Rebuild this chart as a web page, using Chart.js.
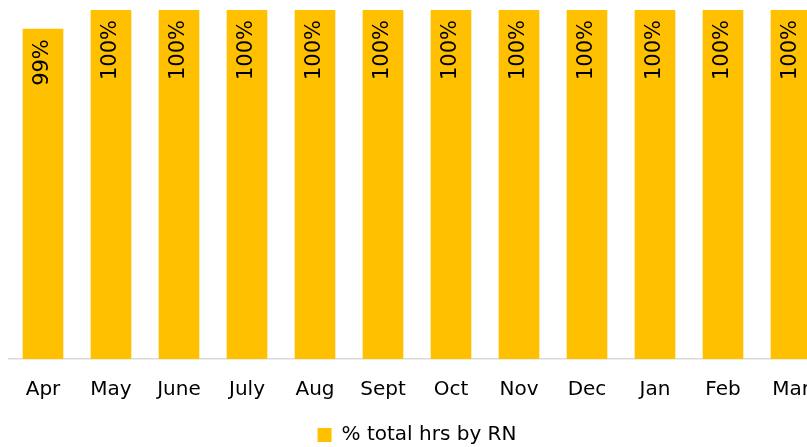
<!DOCTYPE html>
<html>
<head>
<meta charset="utf-8">
<script src="https://cdn.jsdelivr.net/npm/chart.js@4"></script>
<style>
  html, body { margin: 0; padding: 0; background: #fff; overflow: hidden; }
  #wrap { width: 840px; height: 447px; }
</style>
</head>
<body>
<div id="wrap"><canvas id="rnChart" width="840" height="447"></canvas></div>
<script>
var months = ["Apr", "May", "June", "July", "Aug", "Sept", "Oct", "Nov", "Dec", "Jan", "Feb", "Mar"];
var pct_total_hrs_rn = [0.989, 1, 1, 1, 1, 1, 1, 1, 1, 1, 1, 1];
var seriesLabel = "% total hrs by RN";

// bar value labels, rotated, near the top of each bar
var barLabels = {
  id: "barLabels",
  afterDatasetsDraw: function (chart) {
    var ctx = chart.ctx;
    var meta = chart.getDatasetMeta(0);
    ctx.save();
    ctx.font = "21px 'DejaVu Sans'";
    ctx.fillStyle = "#000";
    ctx.textAlign = "right";
    ctx.textBaseline = "middle";
    meta.data.forEach(function (bar, i) {
      var txt = Math.round(pct_total_hrs_rn[i] * 100) + "%";
      ctx.save();
      ctx.translate(bar.x, bar.y + 10);
      ctx.rotate(-Math.PI / 2);
      ctx.fillText(txt, 0, 0);
      ctx.restore();
    });
    ctx.restore();
  },
};

var ctx = document.getElementById("rnChart").getContext("2d");
new Chart(ctx, {
  type: "bar",
  data: {
    labels: months,
    datasets: [
      {
        label: seriesLabel,
        data: pct_total_hrs_rn,
        backgroundColor: "#FFC000",
        borderWidth: 0,
        barThickness: 40,
      },
    ],
  },
  options: {
    responsive: false,
    animation: false,
    layout: {
      padding: { top: 10, left: 9, right: 15, bottom: -8 },
    },
    plugins: {
      legend: {
        position: "bottom",
        labels: {
          font: { family: "'DejaVu Sans'", size: 20 },
          color: "#000",
          boxWidth: 14,
          boxHeight: 14,
          padding: 2,
        },
      },
      tooltip: { enabled: false },
    },
    scales: {
      x: {
        grid: { display: false },
        border: { display: true, color: "#d9d9d9", width: 1.5 },
        ticks: {
          font: { family: "'DejaVu Sans'", size: 20 },
          color: "#000",
          padding: 11,
          maxRotation: 0,
          autoSkip: false,
        },
        afterFit: function (scale) {
          scale.height += 10;
        },
      },
      y: {
        display: false,
        min: 0.8,
        max: 1,
      },
    },
  },
  plugins: [barLabels],
});
</script>
</body>
</html>
